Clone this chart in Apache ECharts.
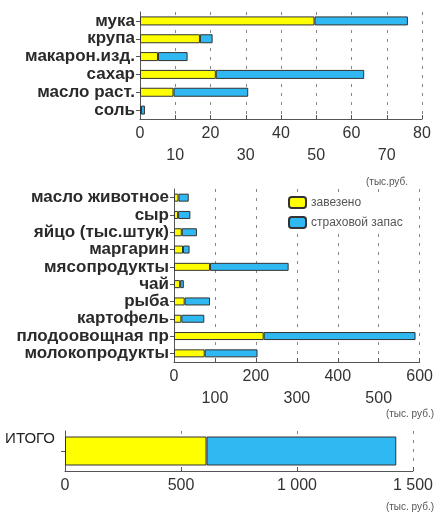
<!DOCTYPE html>
<html><head><meta charset="utf-8">
<script src="https://cdn.jsdelivr.net/npm/echarts@6/dist/echarts.min.js"></script>
<style>html,body{margin:0;padding:0;background:#fff}#c{width:436px;height:516px}</style>
</head><body><div id="c"></div>
<script>
// Chart 1 (top)
const cats1 = ['мука','крупа','макарон.изд.','сахар','масло раст.','соль'];
const zav1 = [49.5, 17, 5.1, 21.5, 9.5, 0.3];
const zap1 = [26.5, 3.6, 8.4, 42.1, 21.2, 1.1];
// Chart 2 (middle)
const cats2 = ['масло животное','сыр','яйцо (тыс.штук)','маргарин','мясопродукты','чай','рыба','картофель','плодоовощная пр','молокопродукты'];
const zav2 = [11, 10, 19, 22, 88, 15, 26, 18, 219, 75];
const zap2 = [25, 30, 37, 16, 192, 9, 62, 56, 371, 129];
// Chart 3 (total)
const cats3 = ['ИТОГО'];
const zav3 = [610];
const zap3 = [818];
const seriesNames = ['завезено','страховой запас'];
const unitTop = '(тыс.руб.';
const unitMid = '(тыс. руб.)';
const unitBot = '(тыс. руб.)';

const YEL = '#ffff00', BLU = '#2fb8f2', EDGE = '#333';
const FONT = 'Liberation Sans';
const chart = echarts.init(document.getElementById('c'));

function xAx(idx, max, interval, stagger, fmt) {
  return {
    type: 'value', gridIndex: idx, min: 0, max: max, interval: interval,
    axisLine: {show: true, lineStyle: {color: '#555', width: 1}},
    axisTick: {show: true, inside: true, length: 4, lineStyle: {color: '#555'}},
    splitLine: {show: true, lineStyle: {color: '#888', type: [3, 6], width: 1}},
    axisLabel: {
      color: '#333', fontFamily: FONT, fontSize: 16, margin: 4, lineHeight: 22,
      formatter: function (v) {
        const s = fmt ? fmt(v) : String(v);
        if (stagger && (v / interval) % 2 === 1) return '\n' + s;
        return s;
      }
    }
  };
}
function yAx(idx, cats, extra) {
  return Object.assign({
    type: 'category', gridIndex: idx, data: cats, inverse: true,
    axisLine: {show: true, lineStyle: {color: '#555'}},
    axisTick: {show: true, alignWithLabel: true, length: 4, lineStyle: {color: '#555'}},
    axisLabel: {interval: 0, color: '#2a2a2a', fontFamily: FONT, fontSize: 17, fontWeight: 'bold', margin: 5}
  }, extra || {});
}
function bar(name, idx, data, color, w) {
  return {
    type: 'bar', name: name, xAxisIndex: idx, yAxisIndex: idx, stack: 's' + idx,
    data: data, barWidth: w,
    itemStyle: {color: color, borderColor: EDGE, borderWidth: 1},
    emphasis: {disabled: true}, silent: true
  };
}
chart.setOption({
  animation: false,
  grid: [
    {left: 140, right: 14, top: 12, height: 107},
    {left: 174, right: 13, top: 189, height: 173},
    {left: 65, right: 20, top: 431, height: 40}
  ],
  xAxis: [
    xAx(0, 80, 10, true),
    xAx(1, 600, 100, true),
    xAx(2, 1500, 500, false, v => v >= 1000 ? Math.floor(v / 1000) + ' ' + String(v % 1000).padStart(3, '0') : String(v))
  ],
  yAxis: [
    yAx(0, cats1),
    yAx(1, cats2),
    yAx(2, cats3, {axisLabel: {interval: 0, color: '#222', fontFamily: FONT, fontSize: 15, margin: 10, verticalAlign: 'bottom', lineHeight: 16, padding: [0, 0, 4, 0]}})
  ],
  legend: {
    data: seriesNames, orient: 'vertical', left: 284, top: 193, itemWidth: 17, itemHeight: 11, itemGap: 7,
    backgroundColor: '#fff', padding: [3, 4, 3, 4],
    textStyle: {color: '#555', fontFamily: FONT, fontSize: 12}
  },
  series: [
    bar(seriesNames[0], 0, zav1, YEL, 9), bar(seriesNames[1], 0, zap1, BLU, 9),
    bar(seriesNames[0], 1, zav2, YEL, 8), bar(seriesNames[1], 1, zap2, BLU, 8),
    bar(seriesNames[0], 2, zav3, YEL, 29), bar(seriesNames[1], 2, zap3, BLU, 29)
  ],
  graphic: [
    {type: 'text', left: 366, top: 177, style: {text: unitTop, fill: '#555', font: '10px ' + FONT}},
    {type: 'text', right: 2, top: 409, style: {text: unitMid, fill: '#555', font: '10px ' + FONT}},
    {type: 'text', right: 2, top: 502, style: {text: unitBot, fill: '#555', font: '10px ' + FONT}}
  ]
});
</script></body></html>
